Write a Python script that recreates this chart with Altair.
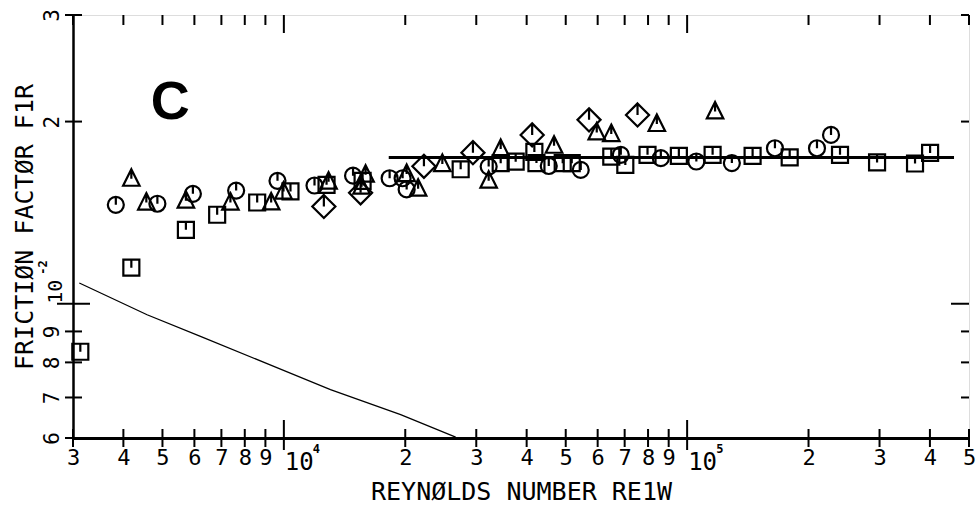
import altair as alt
import pandas as pd

MONO = "DejaVu Sans Mono"
W, H = 896, 423

# ---- measured friction factors, four test series ----
sq_re = [3128, 4186, 5716, 6833, 8587, 10385, 12760, 15677, 27444, 34488, 37568, 41800, 42300,
         49146, 51745, 64850, 70260, 79760, 95390, 115660, 145330, 179600, 239400, 295800,
         367400, 400400]
sq_f = [0.00833, 0.01147, 0.01325, 0.01403, 0.01470, 0.01533, 0.01572, 0.01596, 0.01668, 0.01707,
        0.01717, 0.01782, 0.01708, 0.01707, 0.01707, 0.01750, 0.01696, 0.01762, 0.01755, 0.01762,
        0.01755, 0.01745, 0.01762, 0.01712, 0.01705, 0.01775]

ci_re = [3831, 4857, 5949, 7615, 9643, 11912, 14845, 18293, 19700, 20160, 32201, 45385, 54470,
         68470, 86060, 105400, 129100, 165100, 209900, 227400]
ci_f = [0.01457, 0.01463, 0.01519, 0.01538, 0.01596, 0.01568, 0.01628, 0.01612, 0.01612, 0.01545,
        0.01685, 0.01689, 0.01664, 0.01762, 0.01740, 0.01718, 0.01708, 0.01807, 0.01807, 0.01901]

tr_re = [4186, 4560, 5716, 7370, 9301, 9979, 12908, 15946, 15587, 20160, 21526, 24717, 32201,
         34488, 46774, 59686, 64850, 84120, 117300]
tr_f = [0.01614, 0.01474, 0.01485, 0.01474, 0.01475, 0.01537, 0.01596, 0.01639, 0.01566, 0.01643,
        0.01554, 0.01707, 0.01602, 0.01807, 0.01830, 0.01925, 0.01913, 0.01988, 0.02085]

di_re = [12566, 15497, 22251, 29436, 41280, 57118, 75340]
di_f = [0.01448, 0.01525, 0.01687, 0.01777, 0.01901, 0.02013, 0.02051]

# fitted level for the fully rough region
fit_re = [18200, 459000]
fit_f = [0.01745, 0.01745]

# smooth-pipe reference curve
curve_re = [3110, 4580, 6211, 9441, 13050, 19480, 26670]
curve_f = [0.01082, 0.00959, 0.00883, 0.00788, 0.00721, 0.00656, 0.00602]

# ---- tick positions ----
x_minor = [3000, 4000, 5000, 6000, 7000, 8000, 9000,
           20000, 30000, 40000, 50000, 60000, 70000, 80000, 90000,
           200000, 300000, 400000, 500000]
x_major = [10000, 100000]
x_exp = ["4", "5"]
y_minor = [0.006, 0.007, 0.008, 0.009, 0.02, 0.03]
y_major = [0.01]
y_exp = ["-2"]

# open symbols with a short stem from the top to the centre
SQ = "M-0.97,-0.97 L0.97,-0.97 L0.97,0.97 L-0.97,0.97 Z M0,-0.97 L0,0"
CI = ("M0,-0.97 C0.536,-0.97 0.97,-0.536 0.97,0 C0.97,0.536 0.536,0.97 0,0.97 "
      "C-0.536,0.97 -0.97,0.536 -0.97,0 C-0.97,-0.536 -0.536,-0.97 0,-0.97 Z M0,-0.97 L0,0")
TR = "M0,-1.05 L1,0.95 L-1,0.95 Z M0,-1.05 L0,0.1"
DI = "M0,-1.4 L1.4,0 L0,1.4 L-1.4,0 Z M0,-1.4 L0,0"
series_names = ["square", "circle", "triangle", "diamond"]
series_paths = [SQ, CI, TR, DI]

pts = pd.concat(
    [pd.DataFrame({"re": xs, "f": ys, "series": name})
     for name, xs, ys in [("square", sq_re, sq_f), ("circle", ci_re, ci_f),
                          ("triangle", tr_re, tr_f), ("diamond", di_re, di_f)]],
    ignore_index=True)

xsc = alt.Scale(type="log", domain=[3000, 500000], nice=False)
ysc = alt.Scale(type="log", domain=[0.006, 0.03], nice=False)

lead_digit = "format(datum.value / pow(10, floor(log(datum.value) / LN10 + 1e-9)), 'd')"

x_axis = alt.Axis(values=x_minor, labelExpr=lead_digit, ticks=False, tickSize=0, grid=False,
                  domainColor="black", domainWidth=3, labelFont=MONO, labelFontSize=22,
                  labelColor="black", labelPadding=9, labelFlush=False, labelOverlap=False,
                  title="REYNØLDS NUMBER RE1W", titleFont=MONO, titleFontSize=25,
                  titleFontWeight="normal", titleColor="black", titleY=61,
                  titleBaseline="alphabetic")
y_axis = alt.Axis(values=y_minor, labelExpr=lead_digit, ticks=False, tickSize=0, grid=False,
                  domainColor="black", domainWidth=2.5, labelFont=MONO, labelFontSize=21,
                  labelColor="black", labelAngle=270, labelAlign="center",
                  labelBaseline="alphabetic", labelPadding=15, labelFlush=False,
                  labelOverlap=False, title="FRICTIØN FACTØR F1R", titleFont=MONO,
                  titleFontSize=25, titleFontWeight="normal", titleColor="black",
                  titleAngle=270, titleX=-41, titleBaseline="alphabetic")

X = lambda: alt.X("re:Q", scale=xsc)
Y = lambda: alt.Y("f:Q", scale=ysc)

points = alt.Chart(pts).mark_point(filled=False, size=272, strokeWidth=2.2, color="black",
                                   opacity=1).encode(
    x=alt.X("re:Q", scale=xsc, axis=x_axis),
    y=alt.Y("f:Q", scale=ysc, axis=y_axis),
    shape=alt.Shape("series:N", scale=alt.Scale(domain=series_names, range=series_paths),
                    legend=None),
)

fit = alt.Chart(pd.DataFrame({"re": fit_re, "f": fit_f})).mark_line(
    color="black", strokeWidth=3).encode(x=X(), y=Y())
curve = alt.Chart(pd.DataFrame({"re": curve_re, "f": curve_f})).mark_line(
    color="black", strokeWidth=1.3).encode(x=X(), y=Y())

rule = dict(color="black", strokeWidth=2)
xmin_df = pd.DataFrame({"re": x_minor})
xmaj_df = pd.DataFrame({"re": x_major, "exp": x_exp})
ymin_df = pd.DataFrame({"f": y_minor})
ymaj_df = pd.DataFrame({"f": y_major, "exp": y_exp})

ticks = [
    alt.Chart(xmin_df).mark_rule(**rule).encode(x=X(), y=alt.value(H - 9), y2=alt.value(H + 9)),
    alt.Chart(xmaj_df).mark_rule(**rule).encode(x=X(), y=alt.value(H - 18), y2=alt.value(H + 12)),
    alt.Chart(xmin_df).mark_rule(**rule).encode(x=X(), y=alt.value(0), y2=alt.value(10)),
    alt.Chart(xmaj_df).mark_rule(**rule).encode(x=X(), y=alt.value(0), y2=alt.value(18)),
    alt.Chart(ymin_df).mark_rule(**rule).encode(y=Y(), x=alt.value(-8), x2=alt.value(9)),
    alt.Chart(ymaj_df).mark_rule(**rule).encode(y=Y(), x=alt.value(-16), x2=alt.value(17)),
    alt.Chart(ymin_df).mark_rule(**rule).encode(y=Y(), x=alt.value(W - 8), x2=alt.value(W)),
    alt.Chart(ymaj_df).mark_rule(**rule).encode(y=Y(), x=alt.value(W - 18), x2=alt.value(W)),
]

# decade labels 10^4, 10^5 and 10^-2
pow_labels = [
    alt.Chart(xmaj_df).mark_text(font=MONO, fontSize=24, align="left", baseline="alphabetic",
                                 dx=1, color="black").encode(
        x=X(), y=alt.value(H + 32), text=alt.value("10")),
    alt.Chart(xmaj_df).mark_text(font=MONO, fontSize=12, fontWeight="bold", align="left",
                                 baseline="alphabetic", dx=29, color="black").encode(
        x=X(), y=alt.value(H + 15), text="exp:N"),
    alt.Chart(ymaj_df).mark_text(font=MONO, fontSize=20, align="left", baseline="alphabetic",
                                 angle=270, color="black").encode(
        y=Y(), x=alt.value(-11), text=alt.value("10")),
    alt.Chart(ymaj_df).mark_text(font=MONO, fontSize=12, fontWeight="bold", align="left",
                                 baseline="alphabetic", angle=270, dx=29,
                                 color="black").encode(
        y=Y(), x=alt.value(-26), text="exp:N"),
]

panel_tag = alt.Chart(pd.DataFrame({"re": [5230], "f": [0.0215], "t": ["C"]})).mark_text(
    font="Liberation Sans", fontSize=54, fontWeight="bold", align="center",
    baseline="middle", color="black").encode(x=X(), y=Y(), text="t:N")

chart = alt.layer(curve, fit, *ticks, *pow_labels, panel_tag, points).properties(
    width=W, height=H,
    autosize=alt.AutoSizeParams(type="none"),
    padding={"left": 73, "top": 15, "right": 7, "bottom": 68},
).configure_view(stroke="black", strokeWidth=2).configure(background="white")

chart.save("out.html", embed_options={"renderer": "svg", "actions": False})
